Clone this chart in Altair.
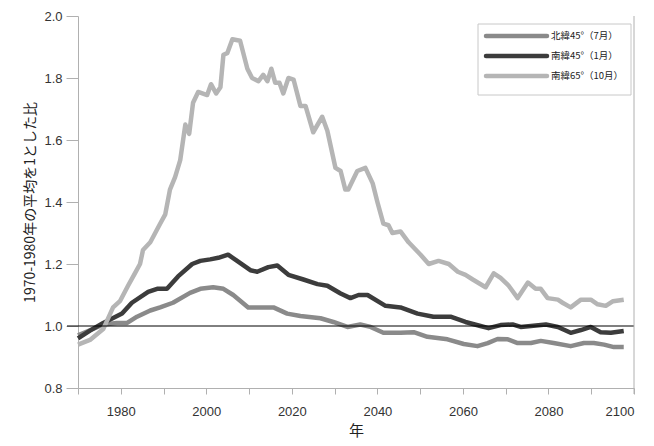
import altair as alt
import pandas as pd

# 北緯45°（7月）
n45_years = [1970, 1976, 1979.1, 1981.5, 1983.8, 1986.9, 1989.2, 1992.2, 1996.2, 1998.6, 2001.6, 2004.0, 2006.3,
             2009.8, 2012.6, 2015.7, 2018.9, 2022.0, 2026.7, 2029.7, 2033.0, 2036.0, 2038.4, 2041.4, 2045.4,
             2048.5, 2051.7, 2056.4, 2060.2, 2063.4, 2065.8, 2068.1, 2070.5, 2072.8, 2075.9, 2078.2, 2081.2,
             2085.2, 2088.3, 2090.6, 2093.0, 2095.3, 2097.6]
n45_vals = [0.97, 1.005, 1.01, 1.01, 1.03, 1.05, 1.06, 1.075, 1.107, 1.12, 1.125, 1.12, 1.10,
            1.06, 1.06, 1.06, 1.04, 1.032, 1.025, 1.013, 0.997, 1.005, 0.997, 0.978, 0.978,
            0.98, 0.965, 0.957, 0.942, 0.935, 0.945, 0.958, 0.957, 0.945, 0.945, 0.952, 0.945,
            0.935, 0.945, 0.945, 0.94, 0.932, 0.932]

# 南緯45°（1月）
s45_years = [1970, 1972.8, 1975.9, 1980.3, 1982.6, 1986.4, 1988.5, 1990.8, 1993.4, 1996.7, 1998.6, 2000.9,
             2002.8, 2005.1, 2007.2, 2010.3, 2011.9, 2014.5, 2016.6, 2019.2, 2022.7, 2026.0, 2028.3, 2031.4,
             2033.7, 2035.6, 2037.7, 2041.9, 2045.4, 2049.4, 2053.1, 2057.1, 2060.6, 2064.1, 2066.0, 2068.8,
             2071.6, 2073.5, 2075.9, 2079.4, 2082.2, 2085.2, 2087.6, 2089.9, 2092.2, 2094.6, 2097.6]
s45_vals = [0.96, 0.985, 1.01, 1.04, 1.075, 1.11, 1.12, 1.12, 1.16, 1.20, 1.21, 1.215,
            1.22, 1.23, 1.21, 1.18, 1.175, 1.19, 1.195, 1.165, 1.15, 1.135, 1.13, 1.105,
            1.09, 1.10, 1.10, 1.065, 1.06, 1.04, 1.03, 1.03, 1.013, 1.0, 0.993, 1.003,
            1.005, 0.997, 1.0, 1.005, 0.997, 0.978, 0.987, 0.997, 0.98, 0.978, 0.984]

# 南緯65°（10月）
s65_years = [1970, 1972.8, 1975.9, 1978.2, 1979.8, 1981.7, 1983.3, 1984.5, 1985.2, 1986.9, 1989.2, 1990.4,
             1991.5, 1992.7, 1993.9, 1995.1, 1996.0, 1996.9, 1998.1, 2000.2, 2001.1, 2002.3, 2003.3, 2004.0,
             2004.9, 2006.1, 2007.9, 2009.6, 2010.7, 2012.2, 2013.3, 2014.3, 2015.2, 2016.1, 2017.1, 2018.0,
             2019.2, 2020.4, 2022.0, 2023.2, 2025.0, 2027.1, 2028.3, 2030.2, 2031.4, 2032.5, 2033.2, 2035.3,
             2037.2, 2038.9, 2040.0, 2041.4, 2042.6, 2043.5, 2045.4, 2047.3, 2050.1, 2052.0, 2054.3, 2056.7,
             2058.8, 2060.6, 2062.3, 2065.3, 2067.2, 2068.8, 2070.7, 2072.8, 2075.2, 2077.0, 2078.2, 2079.8,
             2082.2, 2083.3, 2085.2, 2087.6, 2089.9, 2091.5, 2093.4, 2095.1, 2097.6]
s65_vals = [0.94, 0.955, 0.99, 1.06, 1.08, 1.13, 1.17, 1.20, 1.245, 1.27, 1.33, 1.36,
            1.44, 1.48, 1.535, 1.65, 1.62, 1.72, 1.755, 1.745, 1.78, 1.75, 1.77, 1.875,
            1.88, 1.925, 1.92, 1.83, 1.80, 1.79, 1.81, 1.79, 1.83, 1.785, 1.785, 1.75,
            1.80, 1.795, 1.71, 1.71, 1.625, 1.675, 1.63, 1.51, 1.50, 1.44, 1.44, 1.50,
            1.51, 1.46, 1.40, 1.33, 1.325, 1.30, 1.305, 1.27, 1.23, 1.20, 1.21, 1.20,
            1.175, 1.165, 1.15, 1.125, 1.17, 1.155, 1.13, 1.09, 1.14, 1.12, 1.12, 1.09,
            1.085, 1.075, 1.06, 1.085, 1.085, 1.07, 1.065, 1.08, 1.085]

series_names = ["北緯45°（7月）", "南緯45°（1月）", "南緯65°（10月）"]
series_colors = ["#8a8a8a", "#3c3c3c", "#b5b5b5"]
x_ticks = list(range(1970, 2101, 10))
y_ticks = [round(0.8 + 0.1 * i, 1) for i in range(13)]

rows = []
for name, ys, vs in zip(series_names, [n45_years, s45_years, s65_years], [n45_vals, s45_vals, s65_vals]):
    for y, v in zip(ys, vs):
        rows.append({"年": y, "比": v, "系列": name})
df = pd.DataFrame(rows)

W, H = 556, 372
FONT = "Liberation Sans, Noto Sans CJK JP, sans-serif"
CJK = "Noto Sans CJK JP"

x_scale = alt.Scale(domain=[1970, 2100], nice=False, zero=False)
y_scale = alt.Scale(domain=[0.8, 2.0], nice=False, zero=False)
color_scale = alt.Scale(domain=series_names, range=series_colors)

lines = alt.Chart(df).mark_line(strokeWidth=4.5, strokeJoin="round").encode(
    x=alt.X("年:Q", scale=x_scale, axis=alt.Axis(
        values=x_ticks, format="d",
        labelExpr="datum.value % 20 == 0 ? datum.label : ''",
        grid=False, tickSize=6, labelPadding=11, labelFontSize=13, labelColor="#333",
        labelFont=FONT, domainColor="#b0b0b0", tickColor="#b0b0b0",
        title="年", titleFont=CJK, titleFontSize=15, titleFontWeight="normal",
        titleColor="#222", titlePadding=5)),
    y=alt.Y("比:Q", scale=y_scale, axis=alt.Axis(
        values=y_ticks, format=".1f",
        labelExpr="round(datum.value*10) % 2 == 0 ? datum.label : ''",
        grid=False,
        tickSize={"condition": {"test": "round(datum.value*10) % 2 == 0", "value": 12}, "value": 7},
        labelPadding=4, labelFontSize=13, labelColor="#333", labelFont=FONT,
        domainColor="#b0b0b0", tickColor="#b0b0b0",
        title="1970-1980年の平均を1とした比", titleFont=CJK, titleFontSize=14,
        titleFontWeight="normal", titleColor="#222", titlePadding=6)),
    color=alt.Color("系列:N", scale=color_scale, legend=None),
    order=alt.Order("年:Q"),
)

base_line = alt.Chart(pd.DataFrame({"v": [1.0]})).mark_rule(color="black", strokeWidth=1).encode(
    y=alt.Y("v:Q", scale=y_scale), x=alt.value(-11), x2=alt.value(W))

right_border = alt.Chart(pd.DataFrame({"v": [2100]})).mark_rule(color="#b0b0b0", strokeWidth=1).encode(
    x=alt.X("v:Q", scale=x_scale), y=alt.value(0), y2=alt.value(H + 6))

# manual legend
legend_box = alt.Chart(pd.DataFrame({"k": [0]})).mark_rect(
    fill="white", stroke="#c8c8c8", strokeWidth=1).encode(
    x=alt.value(400), x2=alt.value(553), y=alt.value(8), y2=alt.value(79))

legend_layers = [legend_box]
row_y = [20, 40, 60]
for name, col, ry in zip(series_names, series_colors, row_y):
    ld = pd.DataFrame({"系列": [name]})
    legend_layers.append(alt.Chart(ld).mark_rule(strokeWidth=4.5, strokeCap="round").encode(
        x=alt.value(408), x2=alt.value(469), y=alt.value(ry),
        color=alt.Color("系列:N", scale=color_scale, legend=None)))
    legend_layers.append(alt.Chart(ld).mark_text(
        align="left", baseline="middle", font=CJK, fontSize=9.5, color="#222").encode(
        x=alt.value(473), y=alt.value(ry), text="系列:N"))

chart = alt.layer(lines, base_line, right_border, *legend_layers).properties(
    width=W, height=H,
    autosize=alt.AutoSizeParams(type="none"),
    padding={"left": 70, "top": 8, "right": 4, "bottom": 56},
).configure_view(stroke=None)

chart.save("out.html", embed_options={"renderer": "svg", "actions": False})
